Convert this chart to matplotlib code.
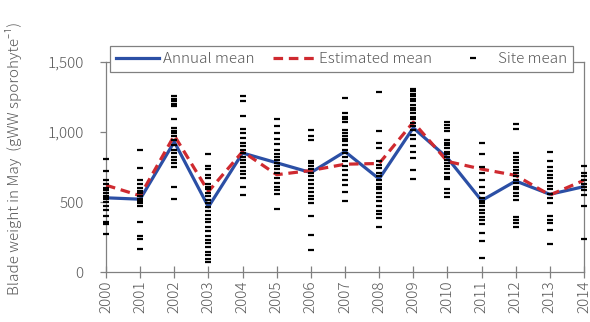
import matplotlib
matplotlib.use("Agg")
import matplotlib.pyplot as plt
from matplotlib.lines import Line2D

plt.rcParams["font.family"] = ["Noto Sans CJK JP", "Noto Sans", "Liberation Sans", "DejaVu Sans"]
plt.rcParams["font.weight"] = "light"

TEXT = "#595959"
FRAME = "#808080"
BLUE = "#2B4FA5"
RED = "#CF2A30"

years = list(range(2000, 2015))
annual_mean = [530, 520, 930, 465, 850, 780, 710, 860, 665, 1030, 815, 510, 650, 555, 610]
estimated_mean = [620, 545, 975, 575, 860, 695, 725, 770, 775, 1070, 790, 735, 690, 550, 655]

# per-year site means (gWW per sporophyte)
site_means = [
    [810, 725, 660, 630, 600, 585, 565, 545, 530, 520, 500, 475, 445, 400, 360, 340, 270],
    [875, 745, 655, 630, 600, 580, 565, 545, 520, 505, 490, 470, 355, 260, 235, 165],
    [1255, 1235, 1220, 1200, 1185, 1095, 1030, 1010, 995, 975, 945, 910, 875, 850, 825, 800, 780, 750, 610, 525],
    [840, 760, 735, 695, 670, 630, 605, 590, 565, 540, 515, 490, 465, 435, 410, 380, 355, 320, 290, 260,
     230, 205, 180, 145, 120, 95, 70],
    [1260, 1220, 1115, 1020, 995, 955, 920, 900, 875, 850, 825, 800, 780, 750, 725, 700, 670, 610, 550],
    [1090, 1040, 990, 950, 915, 875, 845, 820, 800, 780, 760, 735, 705, 670, 635, 610, 585, 560, 450],
    [1015, 975, 940, 795, 780, 760, 735, 710, 685, 660, 630, 600, 575, 540, 520, 490, 400, 265, 155],
    [1245, 1135, 1110, 1090, 1075, 1015, 995, 975, 950, 935, 910, 875, 850, 820, 790, 760, 730, 695, 660,
     625, 575, 510],
    [1285, 1005, 920, 885, 795, 765, 745, 710, 685, 660, 630, 605, 590, 565, 535, 510, 475, 435, 415, 385, 320],
    [1305, 1290, 1275, 1255, 1235, 1220, 1195, 1170, 1155, 1135, 1110, 1090, 1065, 1040, 1015, 980, 950,
     900, 860, 815, 730, 665],
    [1075, 1050, 1030, 1005, 945, 925, 910, 885, 860, 845, 825, 800, 780, 760, 735, 705, 680, 665, 590, 565, 535],
    [925, 840, 750, 710, 660, 610, 565, 530, 505, 490, 470, 445, 420, 395, 375, 345, 280, 220, 100],
    [1060, 1020, 850, 825, 800, 780, 750, 730, 710, 685, 660, 635, 610, 590, 565, 540, 515, 395, 375, 350, 325],
    [855, 790, 750, 720, 695, 670, 645, 615, 590, 555, 530, 490, 400, 375, 350, 300, 200],
    [760, 710, 685, 655, 630, 605, 585, 550, 475, 235],
]

fig = plt.figure(figsize=(5.9, 3.22), dpi=100)
ax = fig.add_axes([106 / 590, 1 - 272 / 322, 478 / 590, 210 / 322])

ax.plot(years, annual_mean, color=BLUE, lw=2.3, zorder=3)
ax.plot(years, estimated_mean, color=RED, lw=2.3, linestyle=(0, (3, 1.8)), zorder=4)
for year, values in zip(years, site_means):
    ax.plot([year] * len(values), values, linestyle="none", marker="_", markersize=5.0,
            markeredgewidth=1.6, color="black", zorder=5, clip_on=False)

ax.set_xlim(2000, 2014)
ax.set_ylim(0, 1500)
ax.set_xticks(years, [str(y) for y in years], rotation=90)
ax.set_yticks([0, 500, 1000, 1500], ["0", "500", "1,000", "1,500"])
ax.tick_params(axis="x", direction="inout", length=8, width=0.9, color=FRAME,
               labelcolor=TEXT, labelsize=11, pad=2)
ax.tick_params(axis="y", direction="out", length=4, width=0.9, color=FRAME,
               labelcolor=TEXT, labelsize=11, pad=12)
for spine in ax.spines.values():
    spine.set_color(FRAME)
    spine.set_linewidth(0.9)

fig.text(14 / 590, 1 - 158 / 322, "Blade weight in May  (gWW sporohyte⁻¹)", rotation=90,
         ha="center", va="center", color=TEXT, fontsize=11)

handles = [
    Line2D([], [], color=BLUE, lw=2.3),
    Line2D([], [], color=RED, lw=2.3, linestyle=(0, (3, 1.8))),
    Line2D([], [], linestyle="none", marker="_", markersize=5.0, markeredgewidth=1.6, color="black"),
]
leg = fig.legend(handles, ["Annual mean", "Estimated mean", "Site mean"], ncol=3,
                 loc="center", bbox_to_anchor=(110 / 590, 1 - 81 / 322, 463 / 590, 44 / 322),
                 bbox_transform=fig.transFigure, mode="expand", borderaxespad=0,
                 fontsize=11, handlelength=2.8, handletextpad=0.25, columnspacing=1.0,
                 fancybox=False, framealpha=1, edgecolor=FRAME, labelcolor=TEXT)
leg.get_frame().set_linewidth(0.9)
leg.set_zorder(10)

fig.savefig("out.png", dpi=100)
